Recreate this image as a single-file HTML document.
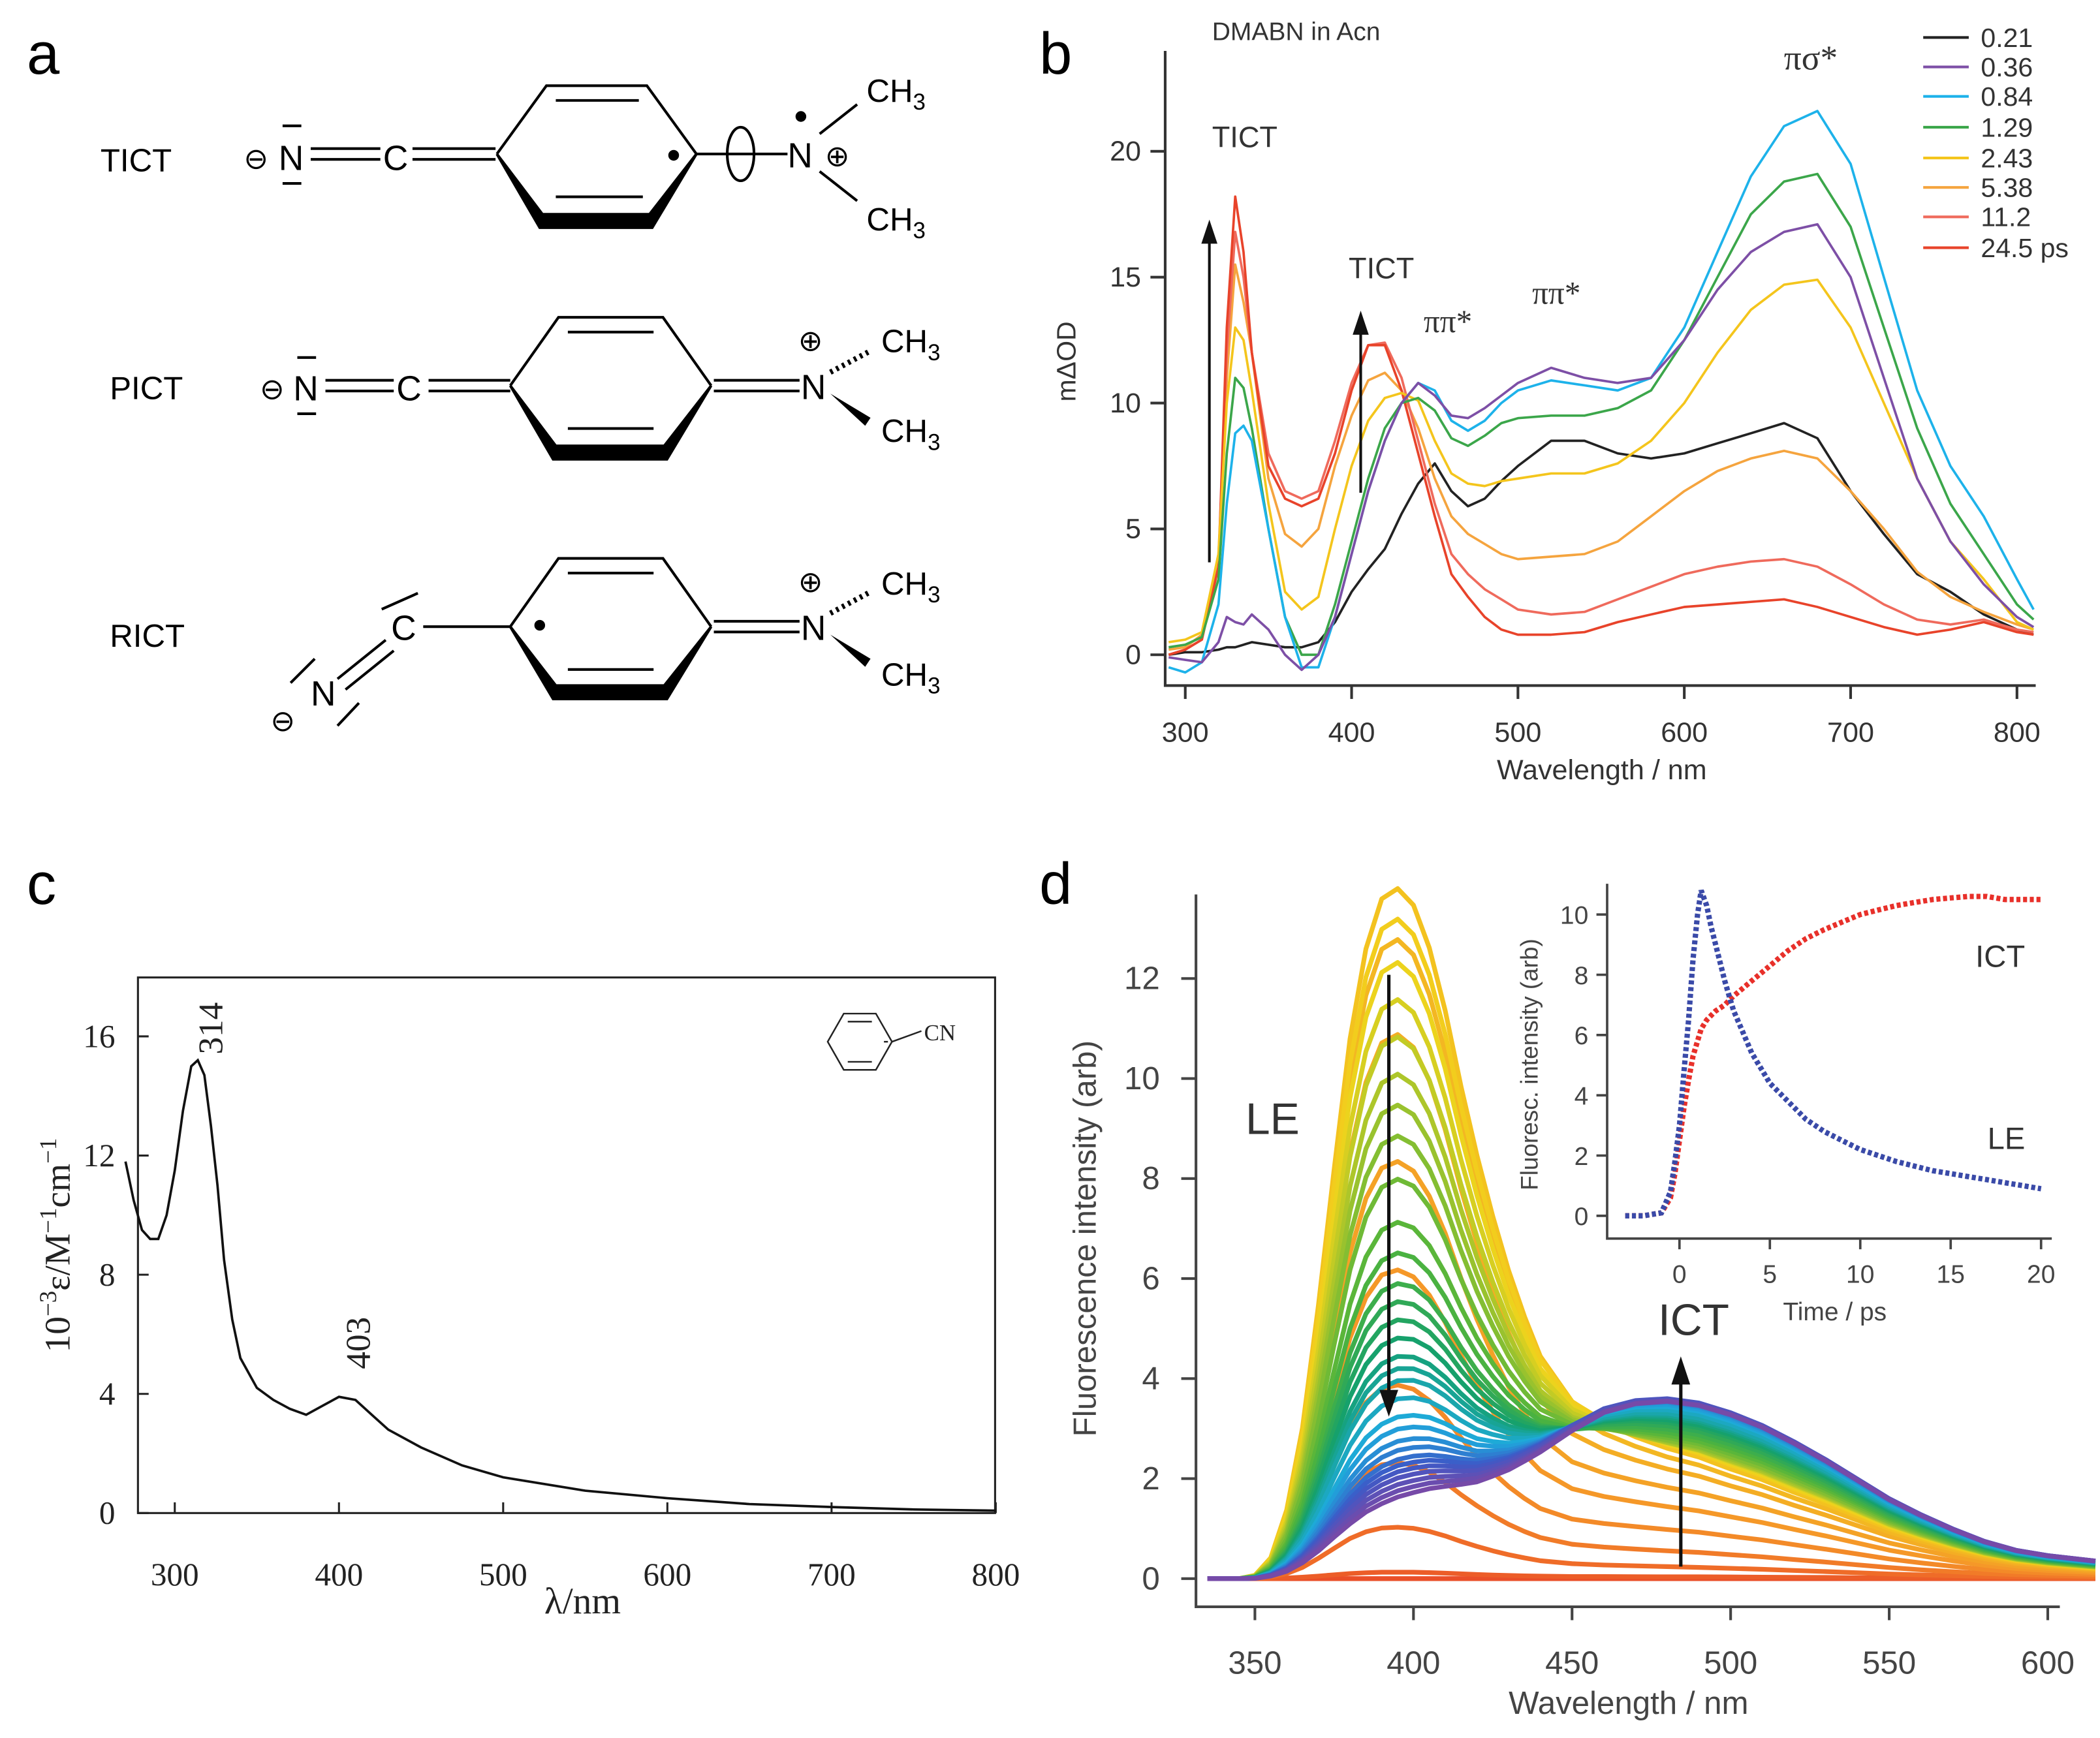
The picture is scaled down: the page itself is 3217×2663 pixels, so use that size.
<!DOCTYPE html>
<html><head><meta charset="utf-8"><style>
html,body{margin:0;padding:0;background:#fff}
svg{display:block}
text{font-family:"Liberation Sans",sans-serif}
.serif{font-family:"Liberation Serif",serif}
</style></head><body>
<svg id="fig" width="3217" height="2663" viewBox="0 0 1568 1298" preserveAspectRatio="none" xmlns="http://www.w3.org/2000/svg">
<rect width="1568" height="1298" fill="#fff"/>
<text x="20" y="55" font-size="44">a</text>
<text x="776" y="55" font-size="44">b</text>
<text x="20" y="675" font-size="44">c</text>
<text x="776" y="675" font-size="44">d</text>

<g stroke="#000" stroke-width="2" fill="none">
  <g>
    <text x="75" y="128" font-size="24" stroke="none" fill="#000">TICT</text>
    <text x="182" y="126" font-size="22" stroke="none" fill="#000">⊖</text>
    <text x="208" y="127" font-size="26" stroke="none" fill="#000">N</text>
    <line x1="211" y1="94" x2="225" y2="94"/><line x1="211" y1="137" x2="225" y2="137"/>
    <line x1="232" y1="111" x2="284" y2="111"/><line x1="232" y1="119" x2="284" y2="119"/>
    <text x="286" y="127" font-size="26" stroke="none" fill="#000">C</text>
    <line x1="308" y1="111" x2="370" y2="111"/><line x1="308" y1="119" x2="370" y2="119"/>
    <polyline points="371,115 408,64 483,64 520,115"/>
    <polygon points="371,115 405,160 485,160 520,115 487,170 403,170" fill="#000"/>
    <line x1="415" y1="75" x2="477" y2="75"/><line x1="415" y1="147" x2="480" y2="147"/>
    <circle cx="503" cy="116" r="3" fill="#000"/>
    <line x1="520" y1="115" x2="588" y2="115"/>
    <ellipse cx="553" cy="115" rx="10" ry="20"/>
    <text x="588" y="125" font-size="26" stroke="none" fill="#000">N</text>
    <circle cx="598" cy="87" r="3" fill="#000"/>
    <text x="616" y="124" font-size="22" stroke="none" fill="#000">⊕</text>
    <line x1="612" y1="100" x2="640" y2="78"/><line x1="612" y1="128" x2="640" y2="150"/>
    <text x="647" y="76" font-size="24" stroke="none" fill="#000">CH<tspan font-size="17" dy="6">3</tspan></text>
    <text x="647" y="172" font-size="24" stroke="none" fill="#000">CH<tspan font-size="17" dy="6">3</tspan></text>
  </g>
  <g>
    <text x="82" y="298" font-size="24" stroke="none" fill="#000">PICT</text>
    <text x="194" y="298" font-size="22" stroke="none" fill="#000">⊖</text>
    <text x="219" y="299" font-size="26" stroke="none" fill="#000">N</text>
    <line x1="222" y1="267" x2="236" y2="267"/><line x1="222" y1="309" x2="236" y2="309"/>
    <line x1="243" y1="284" x2="294" y2="284"/><line x1="243" y1="292" x2="294" y2="292"/>
    <text x="296" y="299" font-size="26" stroke="none" fill="#000">C</text>
    <line x1="320" y1="284" x2="381" y2="284"/><line x1="320" y1="292" x2="381" y2="292"/>
    <polyline points="381,288 417,237 495,237 531,288"/>
    <polygon points="381,288 415,333 496,333 531,288 498,343 413,343" fill="#000"/>
    <line x1="424" y1="248" x2="488" y2="248"/><line x1="424" y1="320" x2="488" y2="320"/>
    <line x1="533" y1="284" x2="597" y2="284"/><line x1="533" y1="292" x2="597" y2="292"/>
    <text x="598" y="298" font-size="26" stroke="none" fill="#000">N</text>
    <text x="596" y="262" font-size="22" stroke="none" fill="#000">⊕</text>
    <line x1="620" y1="278" x2="650" y2="262" stroke-dasharray="2,3" stroke-width="4"/>
    <polygon points="620,294 650,312 646,318" fill="#000" stroke="none"/>
    <text x="658" y="263" font-size="24" stroke="none" fill="#000">CH<tspan font-size="17" dy="6">3</tspan></text>
    <text x="658" y="330" font-size="24" stroke="none" fill="#000">CH<tspan font-size="17" dy="6">3</tspan></text>
  </g>
  <g>
    <text x="82" y="483" font-size="24" stroke="none" fill="#000">RICT</text>
    <text x="292" y="478" font-size="26" stroke="none" fill="#000">C</text>
    <line x1="316" y1="468" x2="381" y2="468"/>
    <line x1="285" y1="455" x2="312" y2="443"/>
    <line x1="252" y1="507" x2="288" y2="478"/><line x1="258" y1="515" x2="294" y2="486"/>
    <text x="232" y="527" font-size="26" stroke="none" fill="#000">N</text>
    <line x1="217" y1="510" x2="235" y2="492"/><line x1="252" y1="542" x2="268" y2="525"/>
    <text x="202" y="546" font-size="22" stroke="none" fill="#000">⊖</text>
    <polyline points="381,468 417,417 495,417 531,468"/>
    <polygon points="381,468 415,512 496,512 531,468 498,522 413,522" fill="#000"/>
    <line x1="424" y1="428" x2="488" y2="428"/><line x1="424" y1="500" x2="488" y2="500"/>
    <circle cx="403" cy="467" r="3" fill="#000"/>
    <line x1="533" y1="464" x2="597" y2="464"/><line x1="533" y1="472" x2="597" y2="472"/>
    <text x="598" y="478" font-size="26" stroke="none" fill="#000">N</text>
    <text x="596" y="442" font-size="22" stroke="none" fill="#000">⊕</text>
    <line x1="620" y1="458" x2="650" y2="442" stroke-dasharray="2,3" stroke-width="4"/>
    <polygon points="620,474 650,492 646,498" fill="#000" stroke="none"/>
    <text x="658" y="444" font-size="24" stroke="none" fill="#000">CH<tspan font-size="17" dy="6">3</tspan></text>
    <text x="658" y="512" font-size="24" stroke="none" fill="#000">CH<tspan font-size="17" dy="6">3</tspan></text>
  </g>
</g>

<g id="panelB"></g>
<g id="panelC"></g>
<g id="panelD"></g>
</svg>
<script>
// ===== Panel b data =====
const bWavelengths=[290,300,310,320,325,330,335,340,350,360,370,380,390,400,410,420,430,440,450,460,470,480,490,500,520,540,560,580,600,620,640,660,680,700,720,740,760,780,800,810];
const bLabels=["0.21","0.36","0.84","1.29","2.43","5.38","11.2","24.5 ps"];
const b021=[0,0.1,0.1,0.2,0.3,0.3,0.4,0.5,0.4,0.3,0.3,0.5,1.3,2.5,3.4,4.2,5.6,6.8,7.6,6.5,5.9,6.2,6.9,7.5,8.5,8.5,8.0,7.8,8.0,8.4,8.8,9.2,8.6,6.5,4.8,3.2,2.5,1.6,1.0,0.8];
const b036=[-0.1,-0.2,-0.3,0.5,1.5,1.3,1.2,1.6,1.0,0,-0.6,0,1.5,4,6.5,8.5,10,10.8,10.3,9.5,9.4,9.8,10.3,10.8,11.4,11.0,10.8,11.0,12.5,14.5,16,16.8,17.1,15,11,7,4.5,2.8,1.5,1.1];
const b084=[-0.5,-0.7,-0.3,2,6,8.8,9.1,8.5,5,1.5,-0.5,-0.5,1.5,4,6.5,8.5,10,10.8,10.5,9.3,8.9,9.3,10,10.5,10.9,10.7,10.5,11,13,16,19,21,21.6,19.5,15,10.5,7.5,5.5,3,1.8];
const b129=[0.3,0.4,0.7,3,8,11,10.6,9,5,1.5,0,0,2,4.5,7,9,10,10.2,9.7,8.6,8.3,8.7,9.2,9.4,9.5,9.5,9.8,10.5,12.5,15,17.5,18.8,19.1,17,13,9,6,4,2,1.4];
const b243=[0.5,0.6,0.9,4,10,13,12.5,10.5,6,2.5,1.8,2.3,5,7.5,9.3,10.2,10.4,10.1,8.5,7.2,6.8,6.7,6.9,7.0,7.2,7.2,7.6,8.5,10,12,13.7,14.7,14.9,13,10,7,4.5,3,1.3,1.0];
const b538=[0.2,0.3,0.8,4,11,15.5,14,12,7,4.8,4.3,5,7.5,9.5,10.9,11.2,10.5,9,7,5.5,4.8,4.4,4.0,3.8,3.9,4,4.5,5.5,6.5,7.3,7.8,8.1,7.8,6.5,5,3.3,2.3,1.7,1.2,1.0];
const b112=[0,0.2,0.6,3.5,12,16.8,15,12,8,6.5,6.2,6.5,8.5,10.8,12.3,12.4,11,8.5,6,4,3.2,2.6,2.2,1.8,1.6,1.7,2.2,2.7,3.2,3.5,3.7,3.8,3.5,2.8,2.0,1.4,1.2,1.4,1.0,0.9];
const b245=[0,0.2,0.6,3.5,13,18.2,16,12,7.5,6.2,5.9,6.2,8,10.5,12.3,12.3,10.5,8,5.5,3.2,2.3,1.5,1.0,0.8,0.8,0.9,1.3,1.6,1.9,2.0,2.1,2.2,1.9,1.5,1.1,0.8,1.0,1.3,0.9,0.8];
const bXTicks=[300,400,500,600,700,800];
const bYTicks=[0,5,10,15,20];

// ===== Panel c data =====
const cWavelengths=[270,275,280,285,290,295,300,305,310,314,318,322,326,330,335,340,350,360,370,380,390,400,410,420,430,450,475,500,550,600,650,700,750,800];
const cEpsilon=[11.8,10.5,9.5,9.2,9.2,10,11.5,13.5,15,15.2,14.7,13,11,8.5,6.5,5.2,4.2,3.8,3.5,3.3,3.6,3.9,3.8,3.3,2.8,2.2,1.6,1.2,0.75,0.5,0.3,0.2,0.12,0.08];
const cXTicks=[300,400,500,600,700,800];
const cYTicks=[0,4,8,12,16];

// ===== Panel d data =====
const dLeWl=[335,345,350,355,360,365,370,375,380,385,390,395,400,405,410,415,420,425,430,435,440,450,460,470,480,500,520,550,615];
const dLeShape=[0,0,0.005,0.03,0.1,0.22,0.4,0.6,0.79,0.92,0.99,1,0.97,0.9,0.8,0.68,0.57,0.47,0.38,0.3,0.23,0.14,0.09,0.06,0.04,0.02,0.01,0.005,0];
const dIctWl=[335,350,360,370,380,390,400,410,420,430,440,450,460,470,480,490,500,510,520,530,540,550,560,570,580,590,600,615];
const dIctShape=[0,0,0.01,0.03,0.06,0.11,0.18,0.27,0.37,0.5,0.65,0.8,0.92,0.98,1,0.98,0.93,0.86,0.77,0.67,0.56,0.45,0.36,0.28,0.21,0.16,0.13,0.1];
const dTimes=[-3,-2,-1,-0.5,-0.25,0,0.25,0.5,0.75,1,1.2,1.5,1.75,2,2.25,2.5,2.75,3,3.5,4,4.5,5,5.5,6,6.5,7,7.5,8,9,10,11,12,13,14,15,16,17,18,19,20];
const dLeKin=[0,0,0.1,0.8,1.8,3,4.8,6.5,8.5,10,10.8,10.3,9.6,9,8.4,7.8,7.3,6.8,6.1,5.4,4.9,4.4,4.1,3.8,3.5,3.2,3.0,2.8,2.5,2.2,2.0,1.8,1.65,1.5,1.4,1.3,1.2,1.1,1.0,0.9];
const dIctKin=[0,0,0.1,0.6,1.4,2.5,3.6,4.5,5.3,5.8,6.2,6.5,6.65,6.8,6.9,7.0,7.15,7.3,7.55,7.8,8.05,8.3,8.55,8.8,9.0,9.2,9.35,9.5,9.75,10,10.15,10.3,10.4,10.5,10.55,10.6,10.6,10.5,10.5,10.5];
const dLePeak=13.5, dIctPeak=3.5;
const dXTicks=[350,400,450,500,550,600];
const dYTicks=[0,2,4,6,8,10,12];
const dInsetXTicks=[0,5,10,15,20];
const dInsetYTicks=[0,2,4,6,8,10];

const NS="http://www.w3.org/2000/svg";
function mk(parent,tag,attrs,txt){const e=document.createElementNS(NS,tag);for(const k in attrs)e.setAttribute(k,attrs[k]);if(txt!==undefined)e.textContent=txt;parent.appendChild(e);return e;}
function pathFrom(xs,ys,fx,fy){return xs.map((v,i)=>(i?'L':'M')+fx(v).toFixed(1)+','+fy(ys[i]).toFixed(1)).join('');}

(function(){
const g=document.getElementById('panelB');
const bx=v=>885+(v-300)*1.242, by=v=>489-v*18.8;
let ax=mk(g,'path',{d:'M870,38 L870,512 L1520,512',stroke:'#333','stroke-width':2,fill:'none'});


bXTicks.forEach(t=>{let l=mk(g,'line',{x1:bx(t),x2:bx(t),y1:512,y2:522,stroke:'#333','stroke-width':2});


let tx=mk(g,'text',{x:bx(t),y:554,'font-size':21,'text-anchor':'middle',fill:'#333'},String(t));

});
bYTicks.forEach(t=>{let l=mk(g,'line',{x1:859,x2:870,y1:by(t),y2:by(t),stroke:'#333','stroke-width':2});


let tx=mk(g,'text',{x:852,y:by(t)+7,'font-size':21,'text-anchor':'end',fill:'#333'},String(t));

});
let xl=mk(g,'text',{x:1196,y:582,'font-size':21,'text-anchor':'middle',fill:'#333'},'Wavelength / nm');


let yl=mk(g,'text',{x:0,y:0,'font-size':20,'text-anchor':'middle',fill:'#333',transform:'translate(803,270) rotate(-90)'},'mΔOD');


const series=[b021,b036,b084,b129,b243,b538,b112,b245];
const cols=['#222','#7d4fa6','#1db2ea','#3ba64a','#f4c51c','#f5a43e','#ef6a5c','#e8432a'];
const order=[0,5,6,7,4,3,2,1];
order.forEach(i=>{let p=mk(g,'path',{d:pathFrom(bWavelengths,series[i],bx,by),stroke:cols[i],'stroke-width':1.8,fill:'none','stroke-linejoin':'round'});

});
const ly=[28,50,72,95,118,140,162,185];
bLabels.forEach((lb,i)=>{let l=mk(g,'line',{x1:1436,x2:1470,y1:ly[i],y2:ly[i],stroke:cols[i],'stroke-width':2});


let t=mk(g,'text',{x:1479,y:ly[i]+7,'font-size':20,fill:'#333'},lb);

});
const ann=[['DMABN in Acn',905,30,19,0],['TICT',905,110,22,0],['TICT',1007,208,22,0],['ππ*',1063,248,24,1],['ππ*',1144,227,24,1],['πσ*',1332,52,26,1]];
ann.forEach(a=>{let t=mk(g,'text',{x:a[1],y:a[2],'font-size':a[3],fill:'#333'},a[0]);if(a[4])t.setAttribute('class','serif');

});
[[903,420,168],[1016,368,236]].forEach(a=>{let l=mk(g,'line',{x1:a[0],x2:a[0],y1:a[1],y2:a[2]+12,stroke:'#111','stroke-width':2});


let h=mk(g,'polygon',{points:`${a[0]-6},${a[2]+14} ${a[0]+6},${a[2]+14} ${a[0]},${a[2]-4}`,fill:'#111'});

});
})();

(function(){
const g=document.getElementById('panelC');
const cx=v=>130.5+(v-300)*1.226, cy=v=>1130-v*22.25;
let f=mk(g,'rect',{x:103,y:730,width:640,height:400,fill:'none',stroke:'#222','stroke-width':1.5});


cXTicks.forEach(t=>{let l=mk(g,'line',{x1:cx(t),x2:cx(t),y1:1130,y2:1122,stroke:'#222','stroke-width':1.5});


let tx=mk(g,'text',{x:cx(t),y:1184,'font-size':24,'text-anchor':'middle',fill:'#222','class':'serif'},String(t));

});
cYTicks.forEach(t=>{let l=mk(g,'line',{x1:103,x2:111,y1:cy(t),y2:cy(t),stroke:'#222','stroke-width':1.5});


let tx=mk(g,'text',{x:86,y:cy(t)+8,'font-size':24,'text-anchor':'end',fill:'#222','class':'serif'},String(t));

});
let p=mk(g,'path',{d:pathFrom(cWavelengths,cEpsilon,cx,cy),stroke:'#111','stroke-width':1.8,fill:'none'});


let xl=mk(g,'text',{x:435,y:1205,'font-size':28,'text-anchor':'middle',fill:'#222','class':'serif'},'λ/nm');


let yl=mk(g,'text',{x:0,y:0,'font-size':27,'text-anchor':'middle',fill:'#222','class':'serif',transform:'translate(52,930) rotate(-90)'});
yl.innerHTML='10<tspan dy="-10" font-size="18">−3</tspan><tspan dy="10">ε/M</tspan><tspan dy="-10" font-size="18">−1</tspan><tspan dy="10">cm</tspan><tspan dy="-10" font-size="18">−1</tspan>';


[['314',166,768],['403',276,1003]].forEach(a=>{let t=mk(g,'text',{x:0,y:0,'font-size':26,fill:'#222','class':'serif','text-anchor':'middle',transform:`translate(${a[1]},${a[2]}) rotate(-90)`},a[0]);

});
let m=mk(g,'g',{stroke:'#222','stroke-width':1.2,fill:'none'});


mk(m,'polygon',{points:'618,778 630,757 654,757 666,778 654,799 630,799'});
mk(m,'line',{x1:633,y1:763,x2:651,y2:763});mk(m,'line',{x1:633,y1:793,x2:651,y2:793});mk(m,'line',{x1:660,y1:778,x2:663,y2:778});
mk(m,'line',{x1:666,y1:778,x2:688,y2:770});
let cn=mk(g,'text',{x:690,y:777,'font-size':17,fill:'#222','class':'serif'},'CN');


})();

(function(){
const g=document.getElementById('panelD');
const dx=v=>937+(v-350)*2.368, dy=v=>1179-v*37.35;
let ax=mk(g,'path',{d:'M893,668 L893,1200 L1538,1200',stroke:'#444','stroke-width':2,fill:'none'});


dXTicks.forEach(t=>{let l=mk(g,'line',{x1:dx(t),x2:dx(t),y1:1200,y2:1210,stroke:'#444','stroke-width':2});


let tx=mk(g,'text',{x:dx(t),y:1250,'font-size':24,'text-anchor':'middle',fill:'#444'},String(t));

});
dYTicks.forEach(t=>{let l=mk(g,'line',{x1:882,x2:893,y1:dy(t),y2:dy(t),stroke:'#444','stroke-width':2});


let tx=mk(g,'text',{x:866,y:dy(t)+8,'font-size':24,'text-anchor':'end',fill:'#444'},String(t));

});
let xl=mk(g,'text',{x:1216,y:1280,'font-size':24,'text-anchor':'middle',fill:'#444'},'Wavelength / nm');


let yl=mk(g,'text',{x:0,y:0,'font-size':24,'text-anchor':'middle',fill:'#444',transform:'translate(818,925) rotate(-90)'},'Fluorescence intensity  (arb)');


function interp(xs,ys,x){if(x<=xs[0])return ys[0];for(let i=1;i<xs.length;i++)if(x<=xs[i]){const f=(x-xs[i-1])/(xs[i]-xs[i-1]);return ys[i-1]+f*(ys[i]-ys[i-1]);}return ys[ys.length-1];}
const grid=[...new Set(dLeWl.concat(dIctWl))].sort((a,b)=>a-b);
const stops=[[0,[232,64,40]],[0.15,[245,150,40]],[0.3,[242,212,28]],[0.5,[80,180,60]],[0.62,[20,160,110]],[0.75,[30,170,220]],[0.88,[60,90,200]],[1,[118,74,168]]];
function colAt(f){for(let i=1;i<stops.length;i++)if(f<=stops[i][0]){const a=stops[i-1],b=stops[i],u=(f-a[0])/(b[0]-a[0]);return 'rgb('+a[1].map((c,k)=>Math.round(c+u*(b[1][k]-c))).join(',')+')';}return 'rgb(118,74,168)';}
const n=dTimes.length;
dTimes.forEach((t,i)=>{const le=dLeKin[i]/10.8*dLePeak, ic=dIctKin[i]/10.5*dIctPeak;
const vals=grid.map(w=>le*interp(dLeWl,dLeShape,w)+ic*interp(dIctWl,dIctShape,w));
let p=mk(g,'path',{d:pathFrom(grid,vals,dx,dy),stroke:colAt(i/(n-1)),'stroke-width':3.5,fill:'none','stroke-linejoin':'round'});

});
[['LE',930,847],['ICT',1238,997]].forEach(a=>{let t=mk(g,'text',{x:a[1],y:a[2],'font-size':33,fill:'#333'},a[0]);

});
let a1=mk(g,'line',{x1:1037,x2:1037,y1:728,y2:1042,stroke:'#111','stroke-width':2.5});


let h1=mk(g,'polygon',{points:'1030,1038 1044,1038 1037,1058',fill:'#111'});


let a2=mk(g,'line',{x1:1255,x2:1255,y1:1170,y2:1030,stroke:'#111','stroke-width':2.5});


let h2=mk(g,'polygon',{points:'1248,1034 1262,1034 1255,1013',fill:'#111'});


const ix=v=>1254+v*13.5, iy=v=>908-v*22.5;
let bg=mk(g,'rect',{x:1200,y:660,width:335,height:265,fill:'#fff'});


let iax=mk(g,'path',{d:'M1200,660 L1200,925 L1532,925',stroke:'#444','stroke-width':1.8,fill:'none'});


dInsetXTicks.forEach(t=>{let l=mk(g,'line',{x1:ix(t),x2:ix(t),y1:925,y2:933,stroke:'#444','stroke-width':1.8});


let tx=mk(g,'text',{x:ix(t),y:958,'font-size':19,'text-anchor':'middle',fill:'#444'},String(t));

});
dInsetYTicks.forEach(t=>{let l=mk(g,'line',{x1:1192,x2:1200,y1:iy(t),y2:iy(t),stroke:'#444','stroke-width':1.8});


let tx=mk(g,'text',{x:1186,y:iy(t)+7,'font-size':19,'text-anchor':'end',fill:'#444'},String(t));

});
let ixl=mk(g,'text',{x:1370,y:986,'font-size':19,'text-anchor':'middle',fill:'#444'},'Time / ps');


let iyl=mk(g,'text',{x:0,y:0,'font-size':18,'text-anchor':'middle',fill:'#444',transform:'translate(1148,795) rotate(-90)'},'Fluoresc. intensity (arb)');


let pi=mk(g,'path',{d:pathFrom(dTimes,dIctKin,ix,iy),stroke:'#e8302a','stroke-width':4,fill:'none','stroke-dasharray':'3,2'});


let pl=mk(g,'path',{d:pathFrom(dTimes,dLeKin,ix,iy),stroke:'#3a4aa8','stroke-width':4,fill:'none','stroke-dasharray':'3,2'});


[['ICT',1475,722],['LE',1484,858]].forEach(a=>{let t=mk(g,'text',{x:a[1],y:a[2],'font-size':23,fill:'#333'},a[0]);

});
})();
</script>
</body></html>
